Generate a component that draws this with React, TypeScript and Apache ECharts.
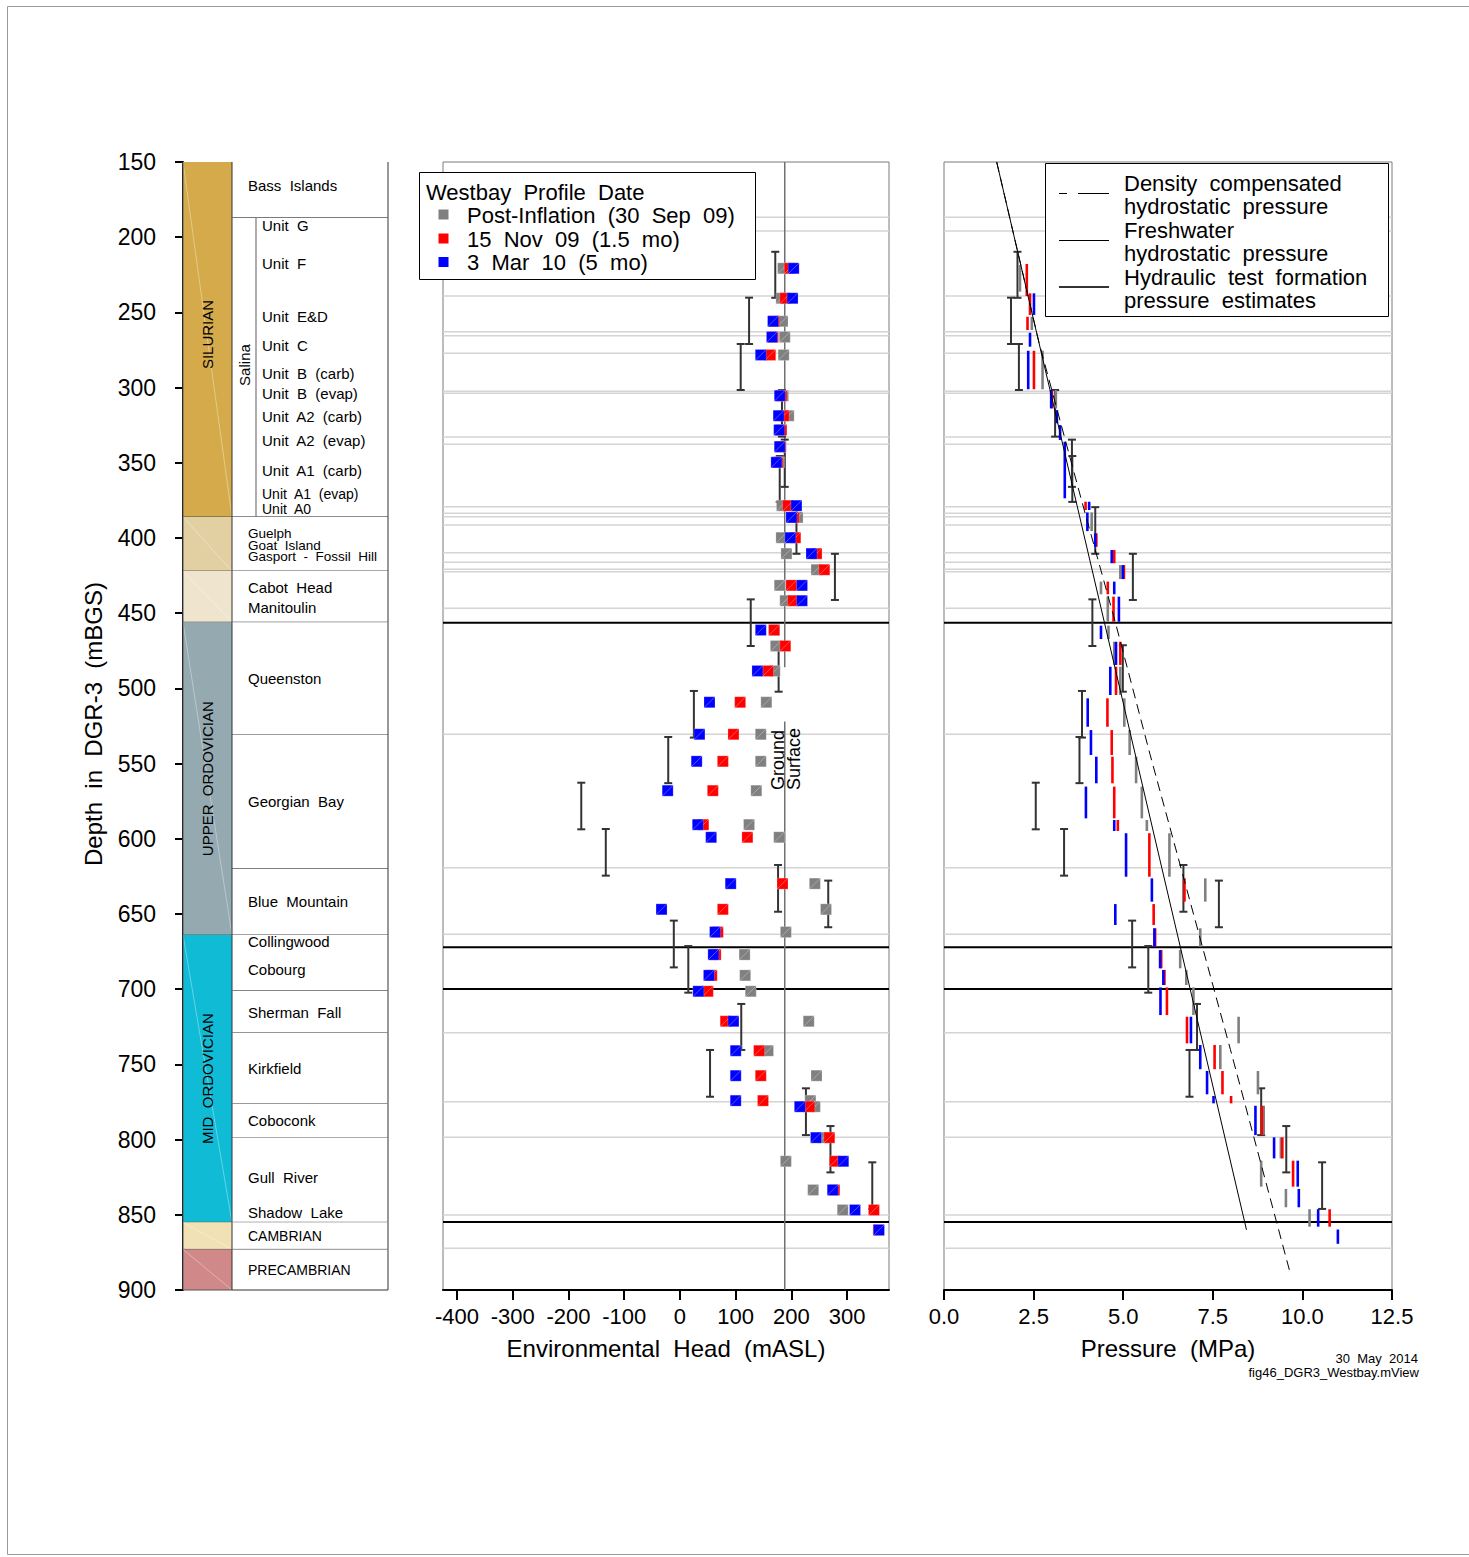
import React, { useEffect, useRef } from "react";
import * as echarts from "echarts";

// ---------------- axes ----------------
const depthMin = 150;
const depthMax = 900;
const depthInterval = 50;
const headMin = -425;
const headMax = 375;
const headTicks = [-400, -300, -200, -100, 0, 100, 200, 300];
const pressureMin = 0;
const pressureMax = 12.5;
const pressureTicks = [0, 2.5, 5, 7.5, 10, 12.5];

// ---------------- stratigraphy ----------------
const eraNames = ["SILURIAN", "", "", "UPPER  ORDOVICIAN", "MID  ORDOVICIAN", "", ""];
const eraTops = [150, 386, 422, 456, 664, 855, 873];
const eraBottoms = [386, 422, 456, 664, 855, 873, 900];
const eraColors = ["#D5AA4A", "#E2CFA2", "#EFE5CE", "#94A9B0", "#10BBD6", "#F0E2B5", "#D08888"];

const formationTops = [150, 187, 386, 422, 456, 531, 620, 664, 701, 729, 776, 799, 855, 873];
const formationBottoms = [187, 386, 422, 456, 531, 620, 664, 701, 729, 776, 799, 855, 873, 900];
const salinaTop = 187;
const salinaBottom = 386;
const salinaLabelDepth = 285;

const formationNames = [
  "Bass  Islands", "Guelph", "Goat  Island", "Gasport  -  Fossil  Hill", "Cabot  Head", "Manitoulin",
  "Queenston", "Georgian  Bay", "Blue  Mountain", "Collingwood", "Cobourg", "Sherman  Fall",
  "Kirkfield", "Coboconk", "Gull  River", "Shadow  Lake", "CAMBRIAN", "PRECAMBRIAN",
];
const formationLabelDepths = [
  165.3, 396.7, 404.7, 412.6, 432.6, 446.5, 493.7, 575.5, 642, 668, 686.6, 715.2,
  752.4, 787, 824.9, 848.8, 864.1, 886.7,
];
const salinaUnitNames = [
  "Unit  G", "Unit  F", "Unit  E&D", "Unit  C", "Unit  B  (carb)", "Unit  B  (evap)",
  "Unit  A2  (carb)", "Unit  A2  (evap)", "Unit  A1  (carb)", "Unit  A1  (evap)", "Unit  A0",
];
const salinaUnitDepths = [191.9, 217.8, 252.4, 271.7, 290.3, 303.6, 318.9, 335.5, 354.8, 370.6, 381.0];

// ---------------- reference lines ----------------
const zoneLineDepths = [
  186.8, 195.9, 239.1, 262.8, 265.5, 277.2, 302.5, 303.8, 332.8, 337.7, 379.2, 383.6, 385.8,
  391.4, 409.8, 416.2, 420.8, 422.4, 446.7, 530.5, 619.2, 663.5, 728.9, 774.8, 798.5, 850.1, 872.3,
];
const boundaryDepths = [456.3, 672.1, 699.9, 854.8];
const groundSurface = 188;
const groundLabelDepth = 567.5;
const groundLineBreakTop = 486;
const groundLineBreakBottom = 522;

// ---------------- Westbay environmental heads (mASL) ----------------
const wbDepths = [
  220.7, 240.6, 255.9, 266.4, 278.3, 305.4, 318.7, 328.2, 339.3, 349.7, 378.5, 386.3, 399.8, 410.4,
  421.1, 431.5, 441.7, 461.2, 471.8, 488.4, 509.2, 530.5, 548.5, 568.0, 590.6, 599.0, 629.8, 646.9,
  662.0, 677.0, 690.8, 701.4, 721.3, 740.9, 757.5, 774.1, 778.1, 798.7, 814.4, 833.5, 846.8, 860.1,
];
const headPostInflation = [
  185, 182, 184, 188, 186, 185, 195, 180, 181, 178, 183, 211, 182, 191, 245, 179, 189, 169, 172, 170,
  155, 145, 145, 137, 124, 178, 242, 262, 190, 116, 117, 127, 231, 158, 245, 234, 242, 257, 190, 239,
  292, null,
];
const head15Nov = [
  197, 189, 169, 167, 162, 182, 186, 182, 180, 175, 194, 204, 207, 245, 259, 200, 203, 169, 189, 158,
  108, 96, 77, 59, 42, 121, 184, 77, 68, 64, 57, 50, 82, 142, 145, 149, 232, 268, 278, 277, 348, 356,
];
const head3Mar = [
  204, 202, 167, 165, 145, 179, 177, 178, 179, 173, 209, 200, 198, 236, null, 219, 219, 145, null, 139,
  53, 35, 30, -22, 32, 56, 91, -33, 63, 60, 52, 33, 96, 100, 100, 100, 215, 244, 293, 274, 314, 357,
];

// ---------------- Westbay zone pressures [MPa, top depth, bottom depth] ----------------
const pressPostInflation = [
  [2.12, 218.5, 236.2], [2.45, 252.9, 261.7], [2.75, 275.5, 301.1], [3.12, 301.6, 313.8],
  [4.12, 383.0, 395.4], [4.92, 418.0, 427.3], [4.38, 429.0, 437.4], [4.57, 439.0, 455.7],
  [4.59, 458.3, 467.2], [4.75, 469.0, 484.4], [4.92, 485.6, 504.4], [5.03, 506.6, 525.5],
  [5.18, 527.7, 544.3], [5.36, 545.4, 563.1], [5.52, 565.3, 586.4], [5.66, 587.5, 594.8],
  [6.29, 596.3, 625.2], [7.29, 626.3, 641.8], [7.15, 659.5, 671.8], [6.59, 674.0, 686.1],
  [6.76, 687.2, 697.2], [6.96, 698.8, 717.2], [8.22, 718.3, 736.0], [7.71, 737.1, 753.2],
  [8.76, 754.4, 769.9], [8.92, 777.5, 797.0], [9.40, 798.5, 812.5], [8.85, 814.0, 831.3],
  [9.54, 832.8, 845.0], [10.2, 846.3, 857.9],
];
const press15Nov = [
  [2.31, 217.8, 239.1], [2.40, 237.3, 251.7], [2.33, 252.9, 261.7], [2.51, 275.5, 301.1],
  [3.01, 301.6, 313.8], [3.95, 375.9, 381.4], [4.25, 396.9, 405.8], [4.75, 408.0, 416.8],
  [5.02, 418.0, 427.3], [4.57, 429.0, 437.4], [4.73, 439.0, 455.7], [4.92, 469.0, 484.4],
  [4.80, 485.6, 504.4], [4.56, 506.6, 525.5], [4.68, 527.7, 544.3], [4.70, 545.4, 563.1],
  [4.75, 565.3, 586.4], [4.85, 587.5, 594.8], [5.73, 596.3, 625.2], [6.71, 626.3, 641.8],
  [5.85, 643.4, 657.3], [5.89, 659.5, 671.8], [6.06, 674.0, 686.1], [6.15, 687.2, 697.2],
  [6.22, 698.8, 717.2], [6.78, 718.3, 736.0], [7.55, 737.1, 753.2], [7.77, 754.4, 769.9],
  [8.01, 771.0, 775.9], [8.87, 777.5, 797.0], [9.44, 798.5, 812.5], [9.74, 814.0, 831.3],
  [10.76, 846.3, 857.9],
];
const press3Mar = [
  [2.51, 237.3, 251.7], [2.40, 263.5, 272.8], [2.35, 275.5, 301.1], [2.99, 301.6, 313.8],
  [3.15, 315.0, 323.7], [3.24, 324.9, 334.8], [3.37, 336.0, 373.6], [4.05, 375.9, 381.4],
  [4.00, 383.0, 395.4], [4.22, 396.9, 405.8], [4.68, 408.0, 416.8], [4.99, 418.0, 427.3],
  [4.75, 429.0, 437.4], [4.88, 439.0, 455.7], [4.38, 458.3, 467.2], [4.80, 469.0, 484.4],
  [4.64, 485.6, 504.4], [4.01, 506.6, 525.5], [4.10, 527.7, 544.3], [4.25, 545.4, 563.1],
  [3.96, 565.3, 586.4], [4.75, 587.5, 594.8], [5.08, 596.3, 625.2], [5.80, 626.3, 641.8],
  [4.78, 643.4, 657.3], [5.87, 659.5, 671.8], [6.03, 674.0, 686.1], [6.12, 687.2, 697.2],
  [6.04, 698.8, 717.2], [6.89, 718.3, 736.0], [7.15, 737.1, 753.2], [7.34, 754.4, 769.9],
  [7.52, 771.0, 775.9], [8.69, 777.5, 797.0], [9.21, 798.5, 812.5], [9.87, 814.0, 831.3],
  [9.90, 832.8, 845.0], [10.44, 846.3, 857.9], [10.99, 859.8, 869.3],
];

// ---------------- hydraulic test intervals ----------------
const testTops = [
  209.7, 240.2, 271.0, 301.6, 334.6, 345.5, 379.5, 410.5, 440.8, 471.3, 501.7, 532.3, 562.7, 593.5,
  617.4, 627.8, 654.4, 671.3, 709.8, 740.4, 765.9, 791.0, 815.1,
];
const testBottoms = [
  240.3, 271.0, 301.6, 332.6, 366.0, 376.0, 410.5, 441.2, 471.8, 502.2, 532.7, 563.0, 593.7, 624.5,
  648.5, 658.8, 685.5, 702.3, 740.4, 771.5, 797.0, 821.8, 846.1,
];
const testHeads = [
  171, 124, 109, 183, 188, 179, 209, 278, 127, 177, 25, -21, -177, -133, 176, 266, -11, 15, 110, 54,
  226, 270, 345,
];
const testPressures = [
  2.05, 1.87, 2.09, 3.10, 3.57, 3.58, 4.22, 5.27, 4.14, 4.99, 3.85, 3.78, 2.56, 3.35, 6.68, 7.67,
  5.25, 5.70, 7.06, 6.85, 8.85, 9.55, 10.55,
];

// ---------------- hydrostatic profiles ----------------
const freshwaterPressure = [1.47, 8.44];
const freshwaterDepth = [150, 860];
const densityPressure = [1.47, 2.65, 3.85, 4.78, 5.75, 7.99, 9.64];
const densityDepth = [150, 270, 376, 456, 544, 740, 887];

const COLORS = { post: "#808080", nov: "#FF0000", mar: "#0000FF", bar: "#333333" };

function buildOption() {
  const FONT = '"Liberation Sans", Arial, Helvetica, sans-serif';
  const ERA_FRAC = 49 / 205;
  const SALINA_LINE_FRAC = 73 / 205;
  const SALINA_LABEL_FRAC = 61 / 205;
  const NAME_FRAC = 65 / 205;
  const UNIT_FRAC = 79 / 205;

  const txt = (x: number, y: number, text: string, size: number, opts: any = {}) => ({
    type: "text",
    x,
    y,
    rotation: opts.rotation || 0,
    style: {
      text,
      fill: "#000",
      font: `${size}px ${FONT}`,
      align: opts.align || "left",
      verticalAlign: opts.va || "middle",
      textAlign: opts.align || "left",
      textVerticalAlign: opts.va || "middle",
    },
  });

  const hLineSeries = (axisIdx: number, depths: number[], color: string, width: number, z: number) => ({
    type: "custom",
    xAxisIndex: axisIdx,
    yAxisIndex: axisIdx,
    silent: true,
    z,
    data: depths.map((d) => [axisIdx === 1 ? headMin : pressureMin, d]),
    renderItem: (params: any, api: any) => {
      const cs = params.coordSys;
      const y = api.coord([api.value(0), api.value(1)])[1];
      return {
        type: "line",
        shape: { x1: cs.x, y1: y, x2: cs.x + cs.width, y2: y },
        style: { stroke: color, lineWidth: width },
      };
    },
  });

  const errorBarSeries = (axisIdx: number, values: number[]) => ({
    type: "custom",
    xAxisIndex: axisIdx,
    yAxisIndex: axisIdx,
    silent: true,
    z: 5,
    data: values.map((v, i) => [v, testTops[i], testBottoms[i]]),
    renderItem: (params: any, api: any) => {
      const a = api.coord([api.value(0), api.value(1)]);
      const b = api.coord([api.value(0), api.value(2)]);
      const c = 4;
      const st = { stroke: COLORS.bar, lineWidth: 2 };
      return {
        type: "group",
        children: [
          { type: "line", shape: { x1: a[0], y1: a[1], x2: b[0], y2: b[1] }, style: st },
          { type: "line", shape: { x1: a[0] - c, y1: a[1], x2: a[0] + c, y2: a[1] }, style: st },
          { type: "line", shape: { x1: b[0] - c, y1: b[1], x2: b[0] + c, y2: b[1] }, style: st },
        ],
      };
    },
  });

  const pointSeries = (heads: (number | null)[], color: string, z: number) => ({
    type: "custom",
    xAxisIndex: 1,
    yAxisIndex: 1,
    silent: true,
    z,
    data: heads
      .map((h, i) => (h === null ? null : [h, wbDepths[i]]))
      .filter((d) => d !== null),
    renderItem: (params: any, api: any) => {
      const p = api.coord([api.value(0), api.value(1)]);
      const s = 11;
      return {
        type: "group",
        children: [
          {
            type: "rect",
            shape: { x: p[0] - s / 2, y: p[1] - s / 2, width: s, height: s },
            style: { fill: color, stroke: "rgba(255,255,255,0.35)", lineWidth: 0.6 },
          },
          {
            type: "line",
            shape: { x1: p[0] - s / 2, y1: p[1] + s / 2, x2: p[0] + s / 2, y2: p[1] - s / 2 },
            style: { stroke: "rgba(255,255,255,0.45)", lineWidth: 0.7 },
          },
        ],
      };
    },
  });

  const segmentSeries = (rows: number[][], color: string, z: number) => ({
    type: "custom",
    xAxisIndex: 2,
    yAxisIndex: 2,
    silent: true,
    z,
    data: rows,
    renderItem: (params: any, api: any) => {
      const a = api.coord([api.value(0), api.value(1)]);
      const b = api.coord([api.value(0), api.value(2)]);
      return {
        type: "line",
        shape: { x1: a[0], y1: a[1], x2: b[0], y2: b[1] },
        style: { stroke: color, lineWidth: 2.6 },
      };
    },
  });

  const hiddenY = (gridIndex: number) => ({
    gridIndex,
    type: "value",
    min: depthMin,
    max: depthMax,
    interval: depthInterval,
    inverse: true,
    show: false,
    splitLine: { show: false },
  });

  const bottomAxisCommon = {
    type: "value",
    position: "bottom",
    axisLine: { show: true, onZero: false, lineStyle: { color: "#000", width: 2 } },
    splitLine: { show: false },
    nameLocation: "middle",
    nameGap: 46,
    nameTextStyle: { fontSize: 24, color: "#000", fontFamily: FONT },
  };

  const series: any[] = [
    // era column
    {
      type: "custom",
      xAxisIndex: 0,
      yAxisIndex: 0,
      silent: true,
      z: 2,
      data: eraTops.map((t, i) => [0, (t + eraBottoms[i]) / 2]),
      renderItem: (params: any, api: any) => {
        const i = params.dataIndex;
        const cs = params.coordSys;
        const y0 = api.coord([0, eraTops[i]])[1];
        const y1 = api.coord([0, eraBottoms[i]])[1];
        const x0 = cs.x;
        const w = cs.width * ERA_FRAC;
        const children: any[] = [
          { type: "rect", shape: { x: x0, y: y0, width: w, height: y1 - y0 }, style: { fill: eraColors[i] } },
          {
            type: "line",
            shape: { x1: x0, y1: y0, x2: x0 + w, y2: y1 },
            style: { stroke: "rgba(255,255,255,0.45)", lineWidth: 0.8 },
          },
          {
            type: "polyline",
            shape: { points: [[x0, y0], [x0, y1], [x0 + w, y1]] },
            style: { stroke: "#555", lineWidth: 1, fill: "none" },
          },
        ];
        if (eraNames[i]) {
          children.push(txt(x0 + w / 2, (y0 + y1) / 2 - (i === 0 ? 5 : 0), eraNames[i], 15, { rotation: Math.PI / 2, align: "center" }));
        }
        return { type: "group", children };
      },
    },
    // formation boxes
    {
      type: "custom",
      xAxisIndex: 0,
      yAxisIndex: 0,
      silent: true,
      z: 2,
      data: formationTops.map((t, i) => [0.5, (t + formationBottoms[i]) / 2]),
      renderItem: (params: any, api: any) => {
        const i = params.dataIndex;
        const cs = params.coordSys;
        const y0 = api.coord([0, formationTops[i]])[1];
        const y1 = api.coord([0, formationBottoms[i]])[1];
        const xa = cs.x + cs.width * ERA_FRAC;
        const xb = cs.x + cs.width;
        return {
          type: "group",
          children: [
            { type: "rect", shape: { x: xa, y: y0, width: xb - xa, height: y1 - y0 }, style: { fill: "#fff" } },
            {
              type: "polyline",
              shape: { points: [[xa, y0], [xa, y1], [xb, y1], [xb, y0]] },
              style: { stroke: "#333", lineWidth: 1, fill: "none" },
            },
          ],
        };
      },
    },
    // Salina sub-column
    {
      type: "custom",
      xAxisIndex: 0,
      yAxisIndex: 0,
      silent: true,
      z: 3,
      data: [[SALINA_LINE_FRAC, salinaLabelDepth]],
      renderItem: (params: any, api: any) => {
        const cs = params.coordSys;
        const y0 = api.coord([0, salinaTop])[1];
        const y1 = api.coord([0, salinaBottom])[1];
        const yl = api.coord([0, salinaLabelDepth])[1];
        const xl = cs.x + cs.width * SALINA_LINE_FRAC;
        return {
          type: "group",
          children: [
            { type: "line", shape: { x1: xl, y1: y0, x2: xl, y2: y1 }, style: { stroke: "#777", lineWidth: 1.2 } },
            txt(cs.x + cs.width * SALINA_LABEL_FRAC, yl, "Salina", 15, { rotation: Math.PI / 2, align: "center" }),
          ],
        };
      },
    },
    // formation labels
    {
      type: "custom",
      xAxisIndex: 0,
      yAxisIndex: 0,
      silent: true,
      z: 4,
      data: formationLabelDepths.map((d) => [NAME_FRAC, d]),
      renderItem: (params: any, api: any) => {
        const i = params.dataIndex;
        const p = api.coord([api.value(0), api.value(1)]);
        const name = formationNames[i];
        const small = i >= 1 && i <= 3;
        const caps = name === "CAMBRIAN" || name === "PRECAMBRIAN";
        return txt(p[0], p[1], name, small ? 13.5 : caps ? 14 : 15);
      },
    },
    {
      type: "custom",
      xAxisIndex: 0,
      yAxisIndex: 0,
      silent: true,
      z: 4,
      data: salinaUnitDepths.map((d) => [UNIT_FRAC, d]),
      renderItem: (params: any, api: any) => {
        const i = params.dataIndex;
        const p = api.coord([api.value(0), api.value(1)]);
        const last = i >= salinaUnitNames.length - 2;
        return txt(p[0], p[1], salinaUnitNames[i], last ? 14 : 15);
      },
    },
    // horizontal reference lines
    hLineSeries(1, zoneLineDepths, "#D4D4D4", 1.5, 1),
    hLineSeries(2, zoneLineDepths, "#D4D4D4", 1.5, 1),
    hLineSeries(1, boundaryDepths, "#000", 2, 2),
    hLineSeries(2, boundaryDepths, "#000", 2, 2),
    // ground surface
    {
      type: "custom",
      xAxisIndex: 1,
      yAxisIndex: 1,
      silent: true,
      z: 3,
      data: [[groundSurface, groundLabelDepth]],
      renderItem: (params: any, api: any) => {
        const g = api.value(0);
        const top = api.coord([g, depthMin]);
        const b1 = api.coord([g, groundLineBreakTop]);
        const b2 = api.coord([g, groundLineBreakBottom]);
        const bot = api.coord([g, depthMax]);
        const lab = api.coord([g, api.value(1)]);
        const st = { stroke: "#707070", lineWidth: 1.5 };
        return {
          type: "group",
          children: [
            { type: "line", shape: { x1: top[0], y1: top[1], x2: b1[0], y2: b1[1] }, style: st },
            { type: "line", shape: { x1: b2[0], y1: b2[1], x2: bot[0], y2: bot[1] }, style: st },
            txt(lab[0] - 7, lab[1], "Ground", 18, { rotation: Math.PI / 2 }),
            txt(lab[0] + 9, lab[1], "Surface", 18, { rotation: Math.PI / 2 }),
          ],
        };
      },
    },
    // error bars
    errorBarSeries(1, testHeads),
    errorBarSeries(2, testPressures),
    // Westbay heads
    pointSeries(headPostInflation, COLORS.post, 6),
    pointSeries(head15Nov, COLORS.nov, 7),
    pointSeries(head3Mar, COLORS.mar, 8),
    // Westbay pressures
    segmentSeries(pressPostInflation, COLORS.post, 6),
    segmentSeries(press15Nov, COLORS.nov, 7),
    segmentSeries(press3Mar, COLORS.mar, 8),
    // hydrostatic lines
    {
      type: "line",
      xAxisIndex: 2,
      yAxisIndex: 2,
      silent: true,
      z: 9,
      symbol: "none",
      data: freshwaterPressure.map((p, i) => [p, freshwaterDepth[i]]),
      lineStyle: { color: "#000", width: 1 },
    },
    {
      type: "line",
      xAxisIndex: 2,
      yAxisIndex: 2,
      silent: true,
      z: 9,
      symbol: "none",
      data: densityPressure.map((p, i) => [p, densityDepth[i]]),
      lineStyle: { color: "#000", width: 1, type: [10, 6] },
    },
  ];

  const legendText = (x: number, y: number, text: string) => ({
    type: "text",
    x,
    y,
    z: 101,
    style: {
      text,
      fill: "#000",
      font: `22px ${FONT}`,
      align: "left",
      verticalAlign: "middle",
      textAlign: "left",
      textVerticalAlign: "middle",
    },
  });

  const graphic: any[] = [
    // outer frame
    {
      type: "rect",
      z: 0,
      shape: { x: 7.5, y: 6.5, width: 1480, height: 1548 },
      style: { fill: "none", stroke: "#9a9a9a", lineWidth: 1 },
    },
    // depth axis title
    {
      type: "text",
      x: 93,
      y: 724,
      rotation: Math.PI / 2,
      z: 101,
      style: {
        text: "Depth  in  DGR-3  (mBGS)",
        fill: "#000",
        font: `24px ${FONT}`,
        align: "center",
        verticalAlign: "middle",
        textAlign: "center",
        textVerticalAlign: "middle",
      },
    },
    // Westbay legend
    {
      type: "rect",
      z: 100,
      shape: { x: 419.5, y: 172.5, width: 336, height: 107 },
      style: { fill: "#fff", stroke: "#000", lineWidth: 1 },
    },
    legendText(426, 192, "Westbay  Profile  Date"),
    { type: "rect", z: 101, shape: { x: 438.5, y: 209.5, width: 10, height: 10 }, style: { fill: COLORS.post } },
    { type: "rect", z: 101, shape: { x: 438.5, y: 233.5, width: 10, height: 10 }, style: { fill: COLORS.nov } },
    { type: "rect", z: 101, shape: { x: 438.5, y: 257, width: 10, height: 10 }, style: { fill: COLORS.mar } },
    legendText(467, 215, "Post-Inflation  (30  Sep  09)"),
    legendText(467, 239, "15  Nov  09  (1.5  mo)"),
    legendText(467, 262, "3  Mar  10  (5  mo)"),
    // pressure legend
    {
      type: "rect",
      z: 100,
      shape: { x: 1045.5, y: 163.5, width: 343, height: 153 },
      style: { fill: "#fff", stroke: "#000", lineWidth: 1 },
    },
    { type: "line", z: 101, shape: { x1: 1059, y1: 193.5, x2: 1067, y2: 193.5 }, style: { stroke: "#000", lineWidth: 1 } },
    { type: "line", z: 101, shape: { x1: 1078, y1: 193.5, x2: 1109, y2: 193.5 }, style: { stroke: "#000", lineWidth: 1 } },
    { type: "line", z: 101, shape: { x1: 1059, y1: 240.5, x2: 1109, y2: 240.5 }, style: { stroke: "#000", lineWidth: 1 } },
    { type: "line", z: 101, shape: { x1: 1059, y1: 287, x2: 1109, y2: 287 }, style: { stroke: "#333", lineWidth: 2 } },
    legendText(1124, 183, "Density  compensated"),
    legendText(1124, 206.5, "hydrostatic  pressure"),
    legendText(1124, 230.5, "Freshwater"),
    legendText(1124, 253.5, "hydrostatic  pressure"),
    legendText(1124, 277, "Hydraulic  test  formation"),
    legendText(1124, 300, "pressure  estimates"),
    // footer
    {
      type: "text",
      x: 1418,
      y: 1358,
      z: 101,
      style: {
        text: "30  May  2014",
        fill: "#000",
        font: `13px ${FONT}`,
        align: "right",
        verticalAlign: "middle",
        textAlign: "right",
        textVerticalAlign: "middle",
      },
    },
    {
      type: "text",
      x: 1419,
      y: 1372,
      z: 101,
      style: {
        text: "fig46_DGR3_Westbay.mView",
        fill: "#000",
        font: `13px ${FONT}`,
        align: "right",
        verticalAlign: "middle",
        textAlign: "right",
        textVerticalAlign: "middle",
      },
    },
  ];

  return {
    animation: false,
    backgroundColor: "#fff",
    textStyle: { fontFamily: FONT, color: "#000" },
    grid: [
      { left: 183, top: 162, width: 205, height: 1128, show: false, containLabel: false, outerBoundsMode: "none" },
      {
        left: 443, top: 162, width: 446, height: 1128, show: true, borderColor: "#7a7a7a", borderWidth: 1,
        backgroundColor: "transparent", containLabel: false, outerBoundsMode: "none",
      },
      {
        left: 944, top: 162, width: 448, height: 1128, show: true, borderColor: "#7a7a7a", borderWidth: 1,
        backgroundColor: "transparent", containLabel: false, outerBoundsMode: "none",
      },
    ],
    xAxis: [
      { gridIndex: 0, type: "value", min: 0, max: 1, show: false, splitLine: { show: false } },
      {
        ...bottomAxisCommon,
        gridIndex: 1,
        min: headMin,
        max: headMax,
        name: "Environmental  Head  (mASL)",
        axisTick: { show: true, customValues: headTicks, length: 10, inside: false, lineStyle: { color: "#000", width: 2 } },
        axisLabel: { customValues: headTicks, fontSize: 22, color: "#000", margin: 15, fontFamily: FONT },
      },
      {
        ...bottomAxisCommon,
        gridIndex: 2,
        min: pressureMin,
        max: pressureMax,
        name: "Pressure  (MPa)",
        axisTick: { show: true, customValues: pressureTicks, length: 10, inside: false, lineStyle: { color: "#000", width: 2 } },
        axisLabel: {
          customValues: pressureTicks,
          fontSize: 22,
          color: "#000",
          margin: 15,
          fontFamily: FONT,
          formatter: (v: number) => v.toFixed(1),
        },
      },
    ],
    yAxis: [
      {
        gridIndex: 0,
        type: "value",
        min: depthMin,
        max: depthMax,
        interval: depthInterval,
        inverse: true,
        position: "left",
        offset: 11,
        axisLine: { show: true, lineStyle: { color: "#000", width: 2 } },
        axisTick: { show: true, length: 8, inside: false, lineStyle: { color: "#000", width: 2 } },
        axisLabel: { fontSize: 23, color: "#000", margin: 16, fontFamily: FONT },
        splitLine: { show: false },
      },
      hiddenY(1),
      hiddenY(2),
    ],
    series,
    graphic,
  };
}

export default function App() {
  const ref = useRef<HTMLDivElement>(null);
  useEffect(() => {
    if (!ref.current) return;
    const chart = echarts.init(ref.current, null, { renderer: "svg" });
    chart.setOption(buildOption() as any);
    return () => {
      chart.dispose();
    };
  }, []);
  return (
    <div
      ref={ref}
      style={{ position: "absolute", left: 0, top: 0, width: 1469, height: 1557, background: "#fff" }}
    />
  );
}
